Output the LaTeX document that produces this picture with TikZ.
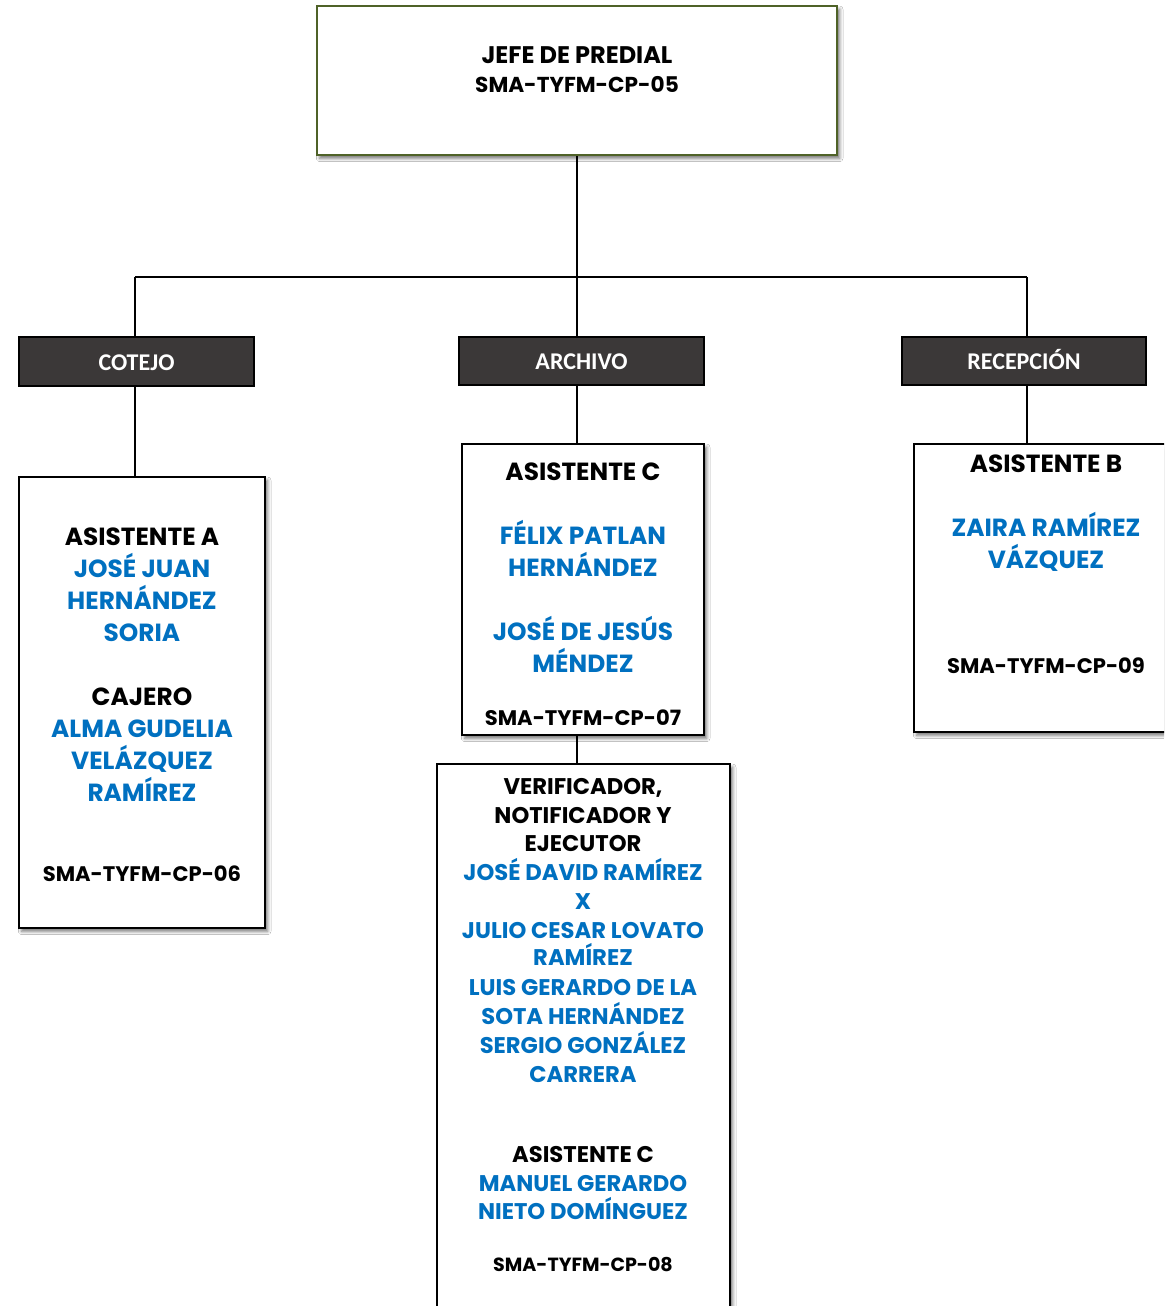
\documentclass[tikz,border=0pt]{standalone}
\usepackage{fontspec}
\setmainfont{Poppins}
\newfontfamily\hdrfont{Carlito}
\usetikzlibrary{fit,shadows.blur}
\definecolor{cblue}{HTML}{0070C0}
\definecolor{cgreen}{HTML}{4F6228}
\definecolor{cdark}{HTML}{3B3838}
\begin{document}
\begin{tikzpicture}[x=0.75pt,y=-0.75pt,
  shd/.style={blur shadow={shadow xshift=2pt,shadow yshift=-2.5pt,shadow blur radius=2.5pt,shadow opacity=55}},
  topbox/.style={draw=cgreen,line width=1.8pt,fill=white,inner sep=0,shd},
  wbox/.style={draw=black,line width=1.6pt,fill=white,inner sep=0,shd},
  hbox/.style={draw=black,line width=1.3pt,fill=cdark,inner sep=0},
  htxt/.style={text=white,font=\hdrfont\bfseries\fontsize{18}{18}\selectfont,anchor=base,inner sep=0},
  big/.style={font=\bfseries\fontsize{18.6}{19}\selectfont,anchor=base,inner sep=0,yshift=-6.9pt},
  mid/.style={font=\bfseries\fontsize{17}{17}\selectfont,anchor=base,inner sep=0,yshift=-6.3pt},
  code/.style={font=\bfseries\fontsize{15.8}{16}\selectfont,anchor=base,inner sep=0,yshift=-5.9pt},
  codes/.style={font=\bfseries\fontsize{14.3}{15}\selectfont,anchor=base,inner sep=0,yshift=-5.3pt},
  blu/.style={text=cblue},
  line/.style={draw=black,line width=1.2pt}]
\clip (0,0) rectangle (1164,1306);
\fill[white] (0,0) rectangle (1164,1306);
% boxes
\node[topbox,fit={(317,6)(837,155)}] (top) {};
\node[hbox,fit={(19,337)(254,386)}] (hA) {};
\node[hbox,fit={(459,337)(704,385)}] (hC) {};
\node[hbox,fit={(902,337)(1146,385)}] (hB) {};
\node[wbox,fit={(19,477)(265,928)}] (bA) {};
\node[wbox,fit={(462,444)(704,735)}] (bC) {};
\node[wbox,fit={(437,764)(730,1316)}] (bV) {};
\node[wbox,fit={(914,444)(1172,732)}] (bB) {};
% connectors
\coordinate (busL) at (135,277);
\coordinate (busR) at (1027,277);
\coordinate (busM) at (577,277);
\draw[line] (top.south -| busM) -- (busM);
\draw[line] (busL) -- (busR);
\draw[line] (busL) -- (busL |- hA.north);
\draw[line] (busM) -- (busM |- hC.north);
\draw[line] (busR) -- (busR |- hB.north);
\draw[line] (hA.south -| busL) -- (bA.north -| busL);
\draw[line] (hC.south -| busM) -- (bC.north -| busM);
\draw[line] (hB.south -| busR) -- (bB.north -| busR);
\draw[line] (bC.south -| busM) -- (bV.north -| busM);
% header labels
\node[htxt] (tA) at (136.5,370) {COTEJO};
\node[htxt] (tC) at (581.5,369) {ARCHIVO};
\node[htxt] (tB) at (1024,369) {RECEPCIÓN};
% top
\node[code,font=\bfseries\fontsize{18}{18}\selectfont,yshift=-0.8pt] (t1) at (577,55) {JEFE DE PREDIAL};
\node[code,font=\bfseries\fontsize{16.2}{16}\selectfont] (t2) at (577,85) {SMA-TYFM-CP-05};
% box A
\node[big] (a1) at (142,536) {ASISTENTE A};
\node[big,blu] (a2) at (142,568) {JOSÉ JUAN};
\node[big,blu] (a3) at (142,600) {HERNÁNDEZ};
\node[big,blu] (a4) at (142,632) {SORIA};
\node[big] (a5) at (142,696) {CAJERO};
\node[big,blu] (a6) at (142,728) {ALMA GUDELIA};
\node[big,blu] (a7) at (142,760) {VELÁZQUEZ};
\node[big,blu] (a8) at (142,792) {RAMÍREZ};
\node[code] (a9) at (142,874) {SMA-TYFM-CP-06};
% box C
\node[big] (c1) at (583,471) {ASISTENTE C};
\node[big,blu] (c2) at (583,535) {FÉLIX PATLAN};
\node[big,blu] (c3) at (583,567) {HERNÁNDEZ};
\node[big,blu] (c4) at (583,631) {JOSÉ DE JESÚS};
\node[big,blu] (c5) at (583,663) {MÉNDEZ};
\node[code] (c6) at (583,718) {SMA-TYFM-CP-07};
% box B
\node[big] (b1) at (1046,463) {ASISTENTE B};
\node[big,blu] (b2) at (1046,527) {ZAIRA RAMÍREZ};
\node[big,blu] (b3) at (1046,559) {VÁZQUEZ};
\node[code] (b4) at (1046,666) {SMA-TYFM-CP-09};
% box V
\node[mid] (v1) at (583,786) {VERIFICADOR,};
\node[mid] (v2) at (583,815) {NOTIFICADOR Y};
\node[mid] (v3) at (583,843) {EJECUTOR};
\node[mid,blu] (v4) at (583,872) {JOSÉ DAVID RAMÍREZ};
\node[mid,blu] (v5) at (583,901) {X};
\node[mid,blu] (v6) at (583,930) {JULIO CESAR LOVATO};
\node[mid,blu] (v7) at (583,957) {RAMÍREZ};
\node[mid,blu] (v8) at (583,987) {LUIS GERARDO DE LA};
\node[mid,blu] (v9) at (583,1016) {SOTA HERNÁNDEZ};
\node[mid,blu] (v10) at (583,1045) {SERGIO GONZÁLEZ};
\node[mid,blu] (v11) at (583,1074) {CARRERA};
\node[mid] (v12) at (583,1154) {ASISTENTE C};
\node[mid,blu] (v13) at (583,1183) {MANUEL GERARDO};
\node[mid,blu] (v14) at (583,1211) {NIETO DOMÍNGUEZ};
\node[codes] (v15) at (583,1264) {SMA-TYFM-CP-08};
\end{tikzpicture}
\end{document}
